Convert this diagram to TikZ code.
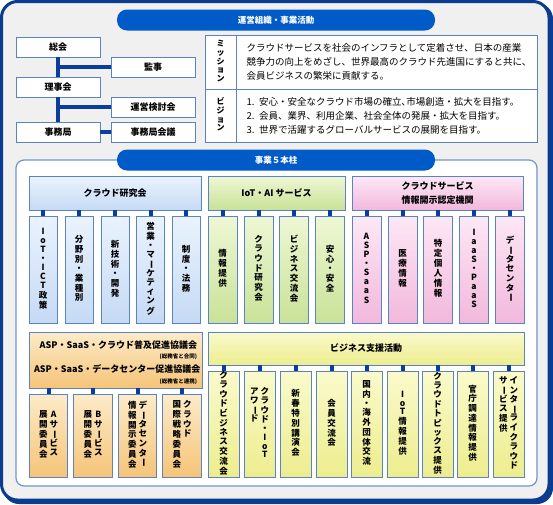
\documentclass[tikz,border=0pt]{standalone}
\usepackage{fontspec}
\setmainfont{Noto Sans CJK JP}
\usepackage{tikz}
\usetikzlibrary{positioning}
\definecolor{BgGray}{HTML}{F0F0F0}
\definecolor{FrameNavy}{HTML}{0B3C8F}
\definecolor{LinkNavy}{HTML}{0A3D9C}
\definecolor{BannerBlue}{HTML}{005BC8}
\definecolor{BoxLine}{HTML}{5A83C4}
\definecolor{PanelLine}{HTML}{7095CC}
\definecolor{BlueTop}{HTML}{EAF3FE}
\definecolor{BlueBot}{HTML}{C6DAF4}
\definecolor{GreenTop}{HTML}{EEF7D4}
\definecolor{GreenBot}{HTML}{C9E298}
\definecolor{PinkTop}{HTML}{FDE8F5}
\definecolor{PinkBot}{HTML}{F2B8DC}
\definecolor{OrangeTop}{HTML}{FDEBC8}
\definecolor{OrangeBot}{HTML}{F5C478}
\definecolor{YellowTop}{HTML}{FAFACC}
\definecolor{YellowBot}{HTML}{EDED8E}
% vertical text: one character per row
\newcommand{\vst}[1]{\begin{tabular}[t]{@{}c@{}}#1\end{tabular}}
\newcommand{\vbar}{\rotatebox[origin=c]{-90}{ー}}

\begin{document}
\begin{tikzpicture}[x=1pt, y=-1pt,
  orgbox/.style={draw=BoxLine, fill=white, line width=0.8pt, inner sep=0pt,
                 minimum width=84pt, minimum height=20pt, font=\bfseries\fontsize{9}{10}\selectfont},
  orgline/.style={draw=LinkNavy, line width=3.5pt},
  stub/.style={draw=LinkNavy, line width=4pt},
  cell/.style={draw=BoxLine, fill=white, line width=1pt, inner sep=0pt},
  banner/.style={fill=BannerBlue, rounded corners=10pt, minimum width=318pt, minimum height=21pt,
                 text=white, font=\bfseries\fontsize{8.5}{9}\selectfont},
  hdr/.style={draw=BoxLine, line width=0.8pt, inner sep=0pt, align=center,
              font=\bfseries\fontsize{9}{14}\selectfont},
  kid/.style={draw=BoxLine, line width=0.8pt, inner sep=0pt,
              font=\bfseries\fontsize{8.5}{9}\selectfont},
  blueC/.style={top color=BlueTop, bottom color=BlueBot},
  greenC/.style={top color=GreenTop, bottom color=GreenBot},
  pinkC/.style={top color=PinkTop, bottom color=PinkBot},
  orangeC/.style={top color=OrangeTop, bottom color=OrangeBot},
  yellowC/.style={top color=YellowTop, bottom color=YellowBot},
  kidA/.style={kid, minimum width=28pt, minimum height=107pt},
  kidB/.style={kid, orangeC, minimum width=38.5pt, minimum height=83pt},
  kidC/.style={kid, yellowC, minimum width=31pt, minimum height=106pt,
               font=\bfseries\fontsize{8.5}{8.6}\selectfont},
]
\useasboundingbox (0,0) rectangle (553,504);

% ===== frame =====
  \fill[FrameNavy, rounded corners=16pt] (3,3) rectangle (553,504);
  \draw[FrameNavy, fill=BgGray, line width=3pt, rounded corners=16pt] (1.5,1.5) rectangle (549,500);

% ===== 運営組織・事業活動 =====
  \node[banner] (B1) at (276,20) {運営組織・事業活動};

  \node[orgbox] (G1) at (58,47) {総会};
  \node[orgbox] (G2) at (153,67) {監事};
  \node[orgbox] (G3) at (58,87) {理事会};
  \node[orgbox] (G4) at (153,107) {運営検討会};
  \node[orgbox] (G5) at (58,132) {事務局};
  \node[orgbox] (G6) at (153,132) {事務局会議};
  \draw[orgline] (G1.south) -- (G3.north);
  \draw[orgline] (G3.south) -- (G5.north);
  \draw[orgline] (G1.south |- G2.west) -- (G2.west);
  \draw[orgline] (G3.south |- G4.west) -- (G4.west);
  \draw[orgline] (G5.east) -- (G6.west);

  \node[cell, minimum width=31pt, minimum height=54pt, font=\bfseries\fontsize{8}{8.3}\selectfont]
    (M1) at (220.5,62) {\vst{ミ\\ッ\\シ\\ョ\\ン}};
  \node[cell, minimum width=301pt, minimum height=54pt, text width=280pt, align=left,
        font=\fontsize{9.5}{14}\selectfont]
    (M2) at (386.5,62) {クラウドサービスを社会のインフラとして定着させ、日本の産業\\競争力の向上をめざし、世界最高のクラウド先進国にすると共に、\\会員ビジネスの繁栄に貢献する。};
  \node[cell, minimum width=31pt, minimum height=53pt, font=\bfseries\fontsize{8}{8.3}\selectfont]
    (V1) at (220.5,115.5) {\vst{ビ\\ジ\\ョ\\ン}};
  \node[cell, minimum width=301pt, minimum height=53pt, text width=280pt, align=left,
        font=\fontsize{9.5}{14}\selectfont]
    (V2) at (386.5,115.5) {1. 安心・安全なクラウド市場の確立､市場創造・拡大を目指す。\\2. 会員、業界、利用企業、社会全体の発展・拡大を目指す。\\3. 世界で活躍するグローバルサービスの展開を目指す。};

% ===== 事業５本柱 =====
  \draw[PanelLine, fill=white, line width=1.2pt, rounded corners=8pt] (16,160) rectangle (537,486);
  \node[banner] (B2) at (276,160) {事業５本柱};

  % クラウド研究会
  \node[hdr, blueC, minimum width=172pt, minimum height=34pt] (HK) at (115,193) {クラウド研究会};
  \node[kidA, blueC] (K1) at (43,269.5) {\vst{I\\o\\T\\・\\I\\C\\T\\政\\策}};
  \node[kidA, blueC] (K2) at (79,269.5) {\vst{分\\野\\別\\・\\業\\種\\別}};
  \node[kidA, blueC] (K3) at (115,269.5) {\vst{新\\技\\術\\・\\開\\発}};
  \node[kidA, blueC] (K4) at (150.5,269.5) {\vst{営\\業\\・\\マ\\\vbar\\ケ\\テ\\ィ\\ン\\グ}};
  \node[kidA, blueC] (K5) at (186,269.5) {\vst{制\\度\\・\\法\\務}};
  \draw[stub] (HK.south -| K1) -- (K1.north) (HK.south -| K2) -- (K2.north)
    (HK.south -| K3) -- (K3.north) (HK.south -| K4) -- (K4.north) (HK.south -| K5) -- (K5.north);

  % IoT・AIサービス
  \node[hdr, greenC, minimum width=137pt, minimum height=34pt] (HI) at (276.5,193) {IoT・AI サービス};
  \node[kidA, greenC, minimum width=29pt] (I1) at (222.5,269.5) {\vst{情\\報\\提\\供}};
  \node[kidA, greenC, minimum width=29pt] (I2) at (258.5,269.5) {\vst{ク\\ラ\\ウ\\ド\\研\\究\\会}};
  \node[kidA, greenC, minimum width=29pt] (I3) at (294,269.5) {\vst{ビ\\ジ\\ネ\\ス\\交\\流\\会}};
  \node[kidA, greenC, minimum width=29pt] (I4) at (330,269.5) {\vst{安\\心\\・\\安\\全}};
  \draw[stub] (HI.south -| I1) -- (I1.north) (HI.south -| I2) -- (I2.north)
    (HI.south -| I3) -- (I3.north) (HI.south -| I4) -- (I4.north);

  % 情報開示認定機関
  \node[hdr, pinkC, minimum width=171pt, minimum height=34pt] (HP) at (437.5,193) {クラウドサービス\\情報開示認定機関};
  \node[kidA, pinkC, minimum width=29pt] (P1) at (366.5,269.5) {\vst{A\\S\\P\\・\\S\\a\\a\\S}};
  \node[kidA, pinkC, minimum width=29pt] (P2) at (402.5,269.5) {\vst{医\\療\\情\\報}};
  \node[kidA, pinkC, minimum width=29pt] (P3) at (438,269.5) {\vst{特\\定\\個\\人\\情\\報}};
  \node[kidA, pinkC, minimum width=29pt] (P4) at (474,269.5) {\vst{I\\a\\a\\S\\・\\P\\a\\a\\S}};
  \node[kidA, pinkC, minimum width=29pt] (P5) at (510,269.5) {\vst{デ\\\vbar\\タ\\セ\\ン\\タ\\\vbar}};
  \draw[stub] (HP.south -| P1) -- (P1.north) (HP.south -| P2) -- (P2.north)
    (HP.south -| P3) -- (P3.north) (HP.south -| P4) -- (P4.north) (HP.south -| P5) -- (P5.north);

  % ASP・SaaS 協議会
  \node[hdr, orangeC, minimum width=173pt, minimum height=56pt, align=right, text width=163pt]
    (HA) at (115.5,360) {\rule{0pt}{13pt}ASP・SaaS・クラウド普及促進協議会\\[-4pt]{\fontsize{5.5}{6}\selectfont (総務省と合同)}\\[0pt]ASP・SaaS・データセンター促進協議会\\[-3pt]{\fontsize{5.5}{6}\selectfont (総務省と連携)}};
  \node[kidB] (A1) at (48.5,435.5) {\vst{展\\開\\委\\員\\会}\hspace{2pt}\vst{A\\サ\\\vbar\\ビ\\ス}};
  \node[kidB] (A2) at (93,435.5) {\vst{展\\開\\委\\員\\会}\hspace{2pt}\vst{B\\サ\\\vbar\\ビ\\ス}};
  \node[kidB] (A3) at (137.5,435.5) {\vst{情\\報\\開\\示\\委\\員\\会}\hspace{2pt}\vst{デ\\\vbar\\タ\\セ\\ン\\タ\\\vbar}};
  \node[kidB] (A4) at (182,435.5) {\vst{国\\際\\戦\\略\\委\\員\\会}\hspace{2pt}\vst{ク\\ラ\\ウ\\ド}};
  \draw[stub] (HA.south -| A1) -- (A1.north) (HA.south -| A2) -- (A2.north)
    (HA.south -| A3) -- (A3.north) (HA.south -| A4) -- (A4.north);

  % ビジネス支援活動
  \node[hdr, yellowC, minimum width=316pt, minimum height=33pt] (HB) at (366,348.5) {ビジネス支援活動};
  \node[kidC] (S1) at (223.5,424) {\vst{ク\\ラ\\ウ\\ド\\ビ\\ジ\\ネ\\ス\\交\\流\\会}};
  \node[kidC] (S2) at (259.5,424) {\vst{ア\\ワ\\\vbar\\ド}\hspace{2pt}\vst{ク\\ラ\\ウ\\ド\\・\\I\\o\\T}};
  \node[kidC] (S3) at (295.5,424) {\vst{新\\春\\特\\別\\講\\演\\会}};
  \node[kidC] (S4) at (331.5,424) {\vst{会\\員\\交\\流\\会}};
  \node[kidC] (S5) at (366.5,424) {\vst{国\\内\\・\\海\\外\\団\\体\\交\\流}};
  \node[kidC] (S6) at (402.5,424) {\vst{I\\o\\T\\情\\報\\提\\供}};
  \node[kidC] (S7) at (437.5,424) {\vst{ク\\ラ\\ウ\\ド\\ト\\ピ\\ッ\\ク\\ス\\提\\供}};
  \node[kidC] (S8) at (472.5,424) {\vst{官\\庁\\調\\達\\情\\報\\提\\供}};
  \node[kidC] (S9) at (508.5,424) {\vst{サ\\\vbar\\ビ\\ス\\提\\供}\hspace{2pt}\vst{イ\\ン\\タ\\\vbar\\ラ\\イ\\ク\\ラ\\ウ\\ド}};
  \draw[stub] (HB.south -| S1) -- (S1.north) (HB.south -| S2) -- (S2.north)
    (HB.south -| S3) -- (S3.north) (HB.south -| S4) -- (S4.north) (HB.south -| S5) -- (S5.north)
    (HB.south -| S6) -- (S6.north) (HB.south -| S7) -- (S7.north) (HB.south -| S8) -- (S8.north)
    (HB.south -| S9) -- (S9.north);

\end{tikzpicture}
\end{document}
